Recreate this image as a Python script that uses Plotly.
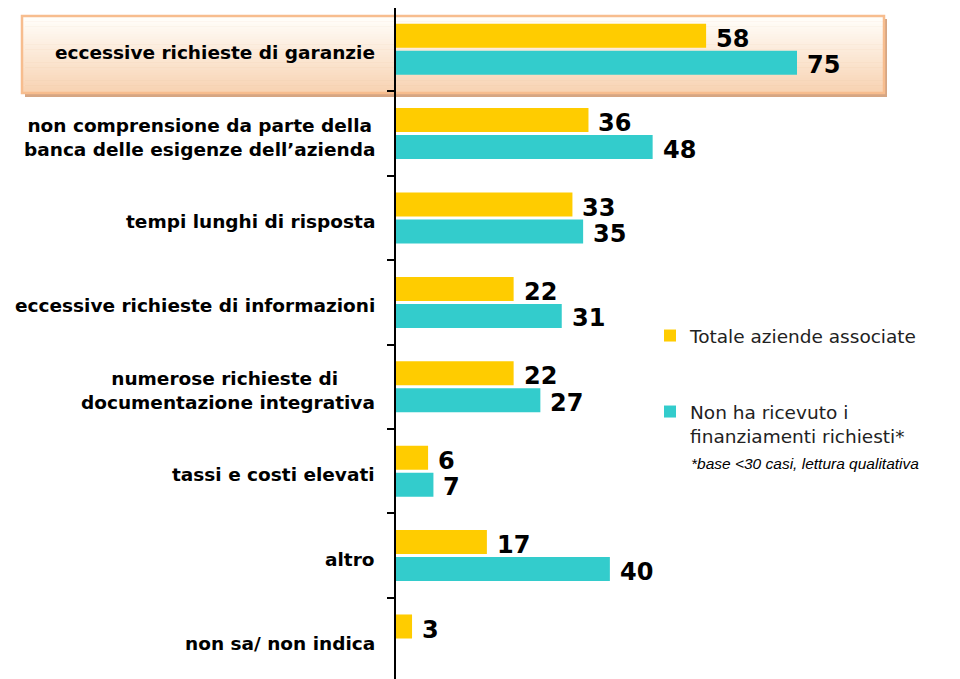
import plotly.graph_objects as go

# categories, top to bottom
categories = [
    "eccessive richieste di garanzie",
    "non comprensione da parte della<br>banca delle esigenze dell’azienda",
    "tempi lunghi di risposta",
    "eccessive richieste di informazioni",
    "numerose richieste di <br>documentazione integrativa",
    "tassi e costi elevati",
    "altro",
    "non sa/ non indica",
]
totale = [58, 36, 33, 22, 22, 6, 17, 3]
non_ricevuto = [75, 48, 35, 31, 27, 7, 40, None]

series_names = [
    "Totale aziende associate",
    "Non ha ricevuto i<br>finanziamenti richiesti*",
]
note_text = "*base &lt;30 casi, lettura qualitativa"

YELLOW = "#FFCC00"
TEAL = "#33CCCC"

# the page has an 8px body margin, so the figure is 8px smaller than the window
OFF = 8
W, H = 960 - OFF, 679 - OFF
AX_X = 396          # axis position in the window
CAT_PX = 84.4       # pixels per category
PX_PER_UNIT = 401 / 75


def px_x(s):
    return (s - AX_X) / (960 - AX_X)


def px_y(s):
    return (679 - s) / (679 - OFF)


fig = go.Figure()

fig.add_trace(go.Bar(
    y=categories, x=totale, orientation="h", name=series_names[0],
    marker=dict(color=YELLOW, line=dict(width=0)),
    legend="legend", showlegend=True,
))
fig.add_trace(go.Bar(
    y=categories, x=non_ricevuto, orientation="h", name=series_names[1],
    marker=dict(color=TEAL, line=dict(width=0)),
    legend="legend2", showlegend=True,
))

# highlight box behind the first category (shadow, gradient, border)
shapes = [dict(
    type="rect", xref="paper", yref="paper", layer="below",
    x0=px_x(25), x1=px_x(887), y0=px_y(19), y1=px_y(97),
    fillcolor="#D6A683", line=dict(width=0),
)]
top_rgb = (255, 254, 251)
bot_rgb = (248, 211, 178)
n_bands = 30
y_top, y_bot = 16, 93
for i in range(n_bands):
    f = i / (n_bands - 1)
    col = tuple(round(a + (b - a) * f) for a, b in zip(top_rgb, bot_rgb))
    y0 = y_top + (y_bot - y_top) * i / n_bands
    y1 = y_top + (y_bot - y_top) * (i + 1) / n_bands
    shapes.append(dict(
        type="rect", xref="paper", yref="paper", layer="below",
        x0=px_x(22), x1=px_x(884), y0=px_y(y1 + 0.5), y1=px_y(y0),
        fillcolor="rgb(%d,%d,%d)" % col, line=dict(width=0),
    ))
shapes.append(dict(
    type="rect", xref="paper", yref="paper", layer="below",
    x0=px_x(22), x1=px_x(884), y0=px_y(93), y1=px_y(16),
    fillcolor="rgba(0,0,0,0)", line=dict(color="#F7BD8E", width=2.5),
))

annotations = []
# category labels: centred lines, block right-aligned next to the axis
for cat in categories:
    annotations.append(dict(
        x=0, y=cat, xref="x", yref="y", xanchor="right", yanchor="middle",
        xshift=-19, yshift=-3.5, text=cat, showarrow=False, align="center",
        font=dict(family="DejaVu Sans", size=18.5, color="#000000", weight="bold"),
    ))
# value labels next to the bar ends
value_font = dict(family="DejaVu Sans", size=24, color="#000000", weight="bold")
for vals, dy in ((totale, 10.5), (non_ricevuto, -16)):
    for cat, v in zip(categories, vals):
        if v is None:
            continue
        annotations.append(dict(
            x=v, y=cat, xref="x", yref="y", xanchor="left", yanchor="middle",
            xshift=8, yshift=dy, text=str(v), showarrow=False,
            font=value_font,
        ))
annotations.append(dict(
    x=px_x(689), y=px_y(463), xref="paper", yref="paper",
    xanchor="left", yanchor="middle", text=note_text, showarrow=False,
    font=dict(family="Liberation Sans", size=15.5, color="#000000", style="italic"),
))

legend_font = dict(family="DejaVu Sans", size=18.5, color="#222222")

fig.update_layout(
    width=W, height=H,
    margin=dict(l=AX_X - OFF, r=0, t=0, b=0),
    paper_bgcolor="white",
    plot_bgcolor="rgba(0,0,0,0)",
    showlegend=True,
    barmode="group",
    bargap=0.36,
    bargroupgap=0.11,
    shapes=shapes,
    annotations=annotations,
    legend=dict(
        x=px_x(650), y=px_y(317), xanchor="left", yanchor="top",
        font=legend_font, itemwidth=30, bgcolor="rgba(0,0,0,0)",
    ),
    legend2=dict(
        x=px_x(650), y=px_y(393), xanchor="left", yanchor="top",
        font=legend_font, itemwidth=30, valign="top", bgcolor="rgba(0,0,0,0)",
    ),
    xaxis=dict(
        range=[0, (960 - AX_X) / PX_PER_UNIT],
        showgrid=False, zeroline=False, showticklabels=False, ticks="",
        showline=False,
    ),
    yaxis=dict(
        range=[-0.5 + (679 - 7) / CAT_PX, -0.5 + (OFF - 7) / CAT_PX],
        showgrid=False, zeroline=False, showticklabels=False,
        showline=True, linecolor="#000000", linewidth=1.5,
        ticks="outside", ticklen=7, tickwidth=1.5, tickcolor="#000000",
        tickson="boundaries",
    ),
)

fig.write_html("out.html")
